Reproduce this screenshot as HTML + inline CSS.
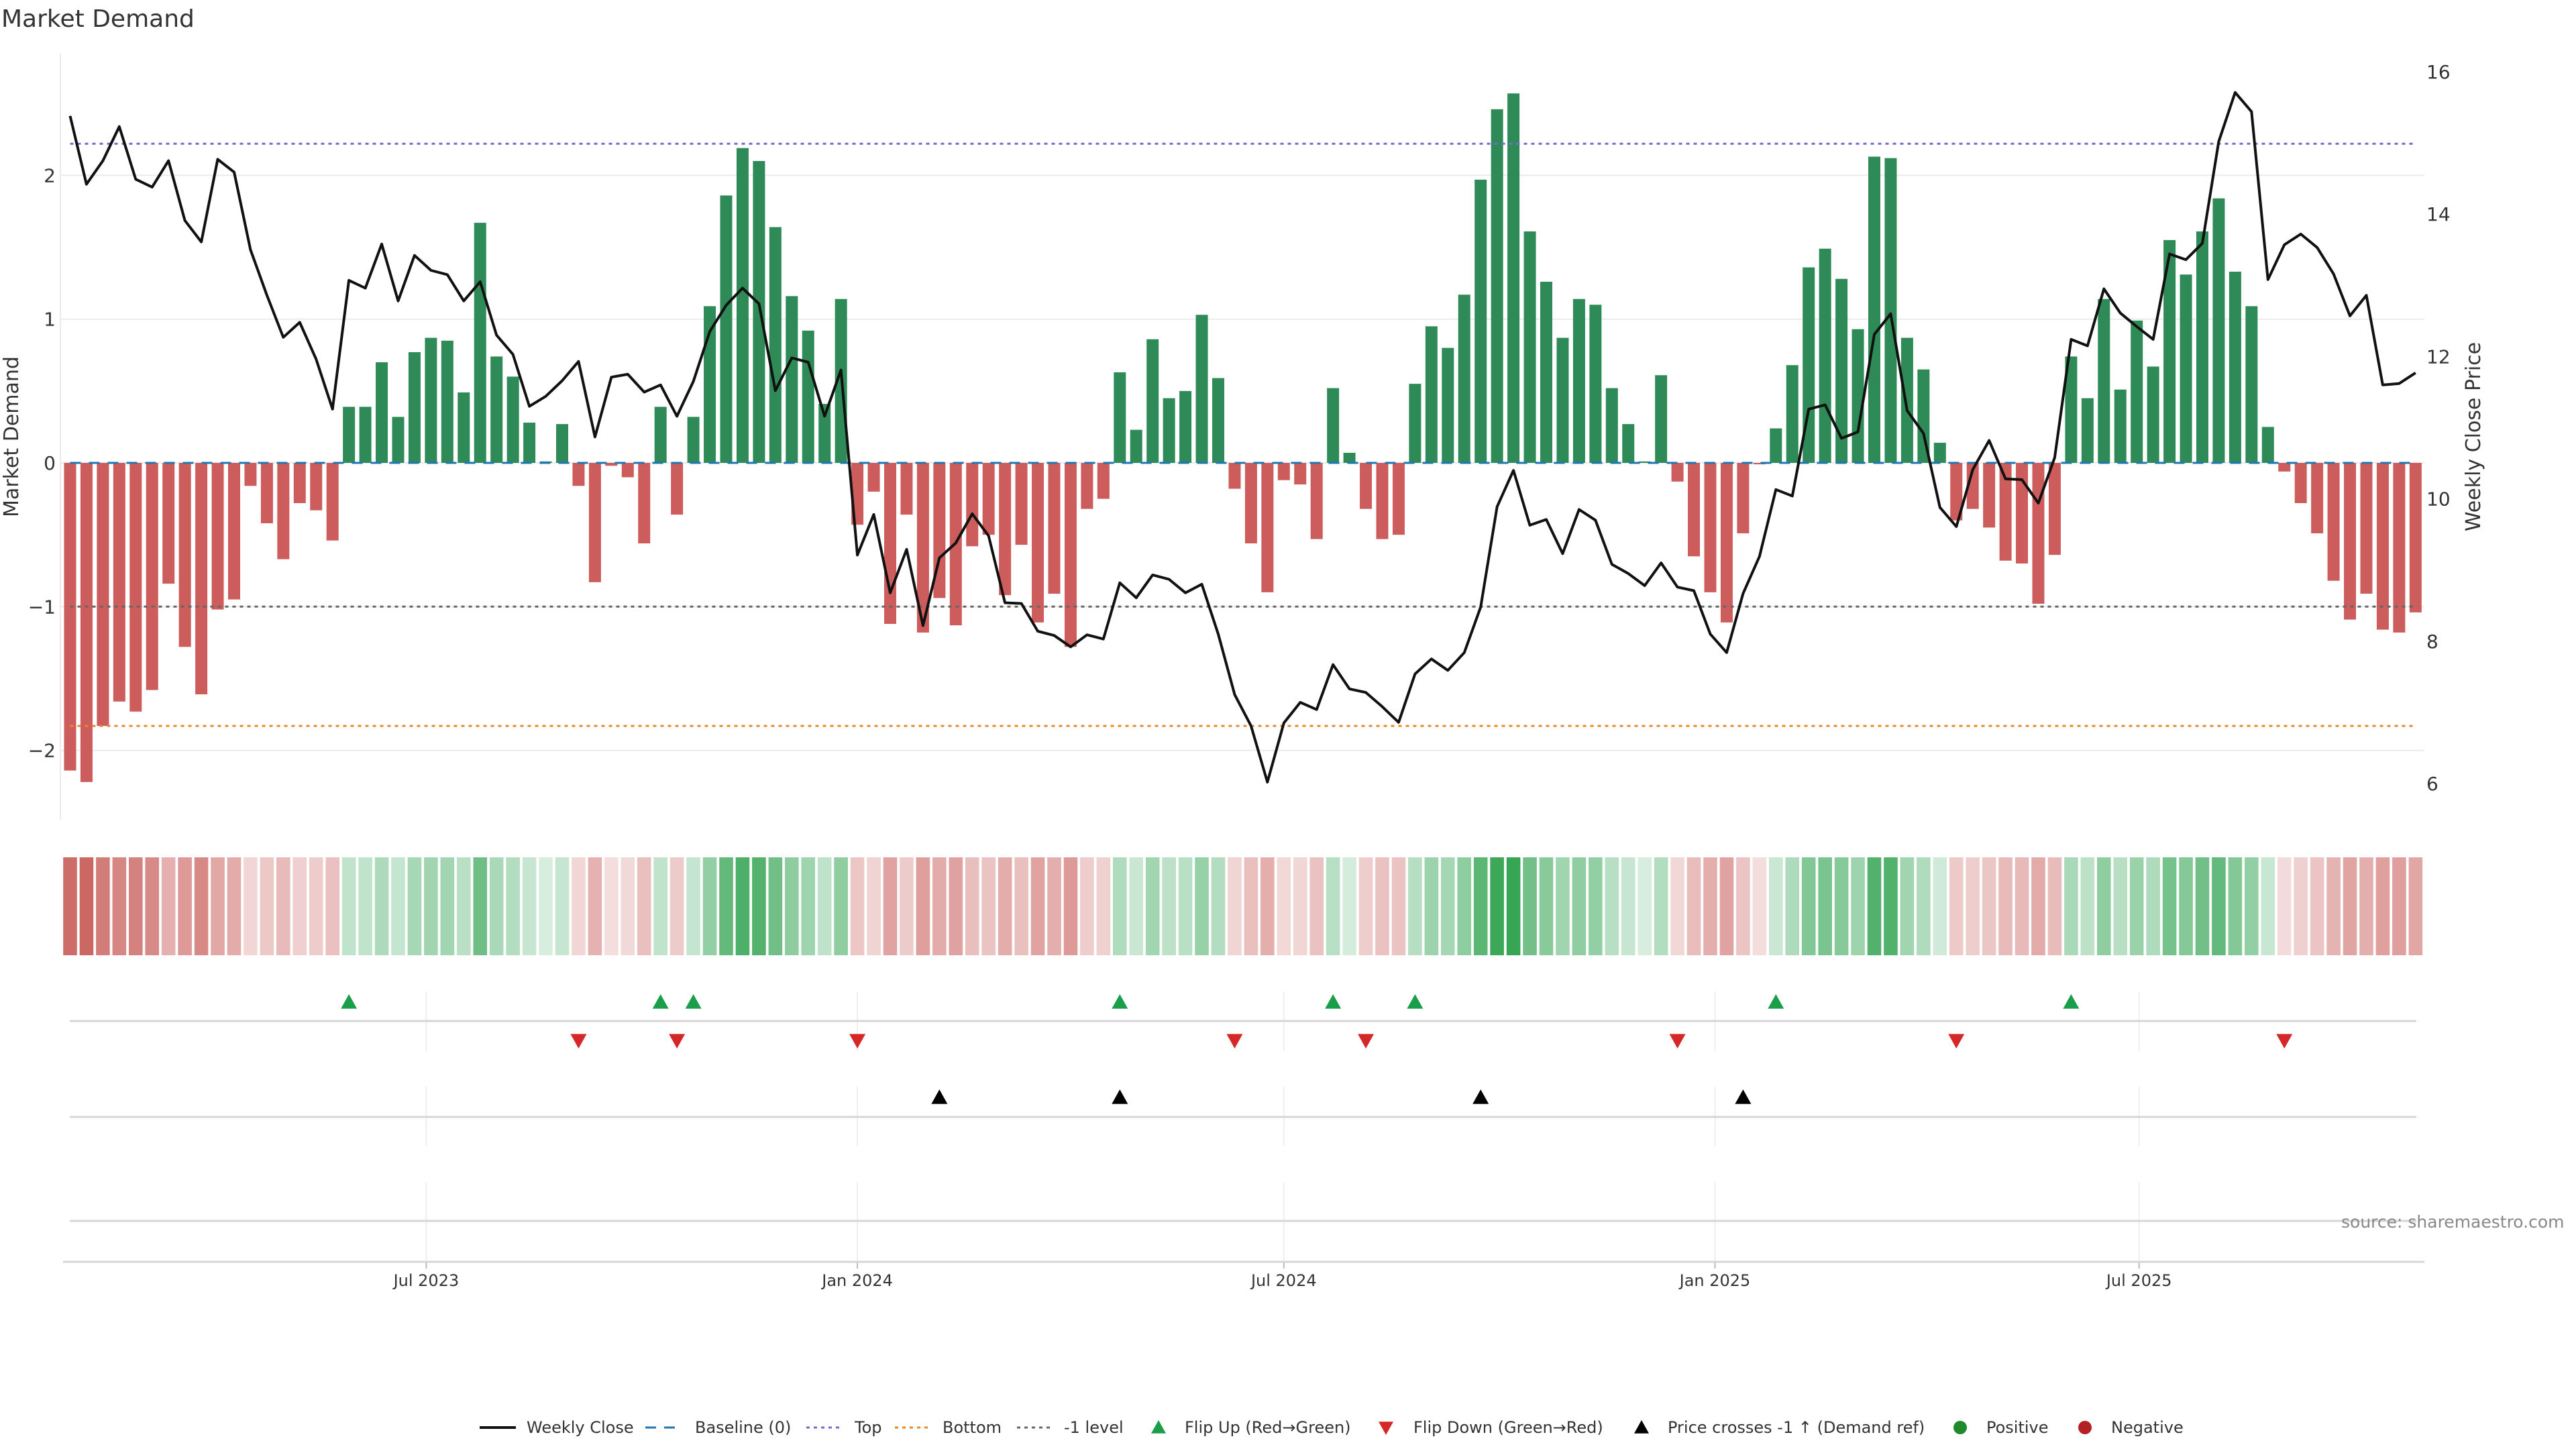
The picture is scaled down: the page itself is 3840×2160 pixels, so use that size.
<!DOCTYPE html>
<html><head><meta charset="utf-8"><title>Market Demand</title>
<style>
html,body{margin:0;padding:0;background:#fff;}
svg{display:block;font-family:"DejaVu Sans","Liberation Sans",sans-serif;}
</style></head>
<body>
<svg id="chart" width="3840" height="2160" viewBox="0 0 3840 2160" xmlns="http://www.w3.org/2000/svg">
<rect width="3840" height="2160" fill="#fff"/>
<text x="2" y="40" font-size="36" fill="#333">Market Demand</text>
<g id="grid"></g><g id="bars"></g><g id="lines"></g><g id="heat"></g><g id="markers"></g><g id="axes"></g><g id="legend"></g>
<text x="3490" y="1830" font-size="25" fill="#888">source: sharemaestro.com</text>
</svg>
<script>
const demand = [-2.14,-2.22,-1.83,-1.66,-1.73,-1.58,-0.84,-1.28,-1.61,-1.02,-0.95,-0.16,-0.42,-0.67,-0.28,-0.33,-0.54,0.39,0.39,0.70,0.32,0.77,0.87,0.85,0.49,1.67,0.74,0.60,0.28,0.01,0.27,-0.16,-0.83,-0.02,-0.10,-0.56,0.39,-0.36,0.32,1.09,1.86,2.19,2.10,1.64,1.16,0.92,0.41,1.14,-0.43,-0.20,-1.12,-0.36,-1.18,-0.94,-1.13,-0.58,-0.50,-0.92,-0.57,-1.11,-0.91,-1.28,-0.32,-0.25,0.63,0.23,0.86,0.45,0.50,1.03,0.59,-0.18,-0.56,-0.90,-0.12,-0.15,-0.53,0.52,0.07,-0.32,-0.53,-0.50,0.55,0.95,0.80,1.17,1.97,2.46,2.57,1.61,1.26,0.87,1.14,1.10,0.52,0.27,0.01,0.61,-0.13,-0.65,-0.90,-1.11,-0.49,-0.01,0.24,0.68,1.36,1.49,1.28,0.93,2.13,2.12,0.87,0.65,0.14,-0.40,-0.32,-0.45,-0.68,-0.70,-0.98,-0.64,0.74,0.45,1.14,0.51,0.99,0.67,1.55,1.31,1.61,1.84,1.33,1.09,0.25,-0.06,-0.28,-0.49,-0.82,-1.09,-0.91,-1.16,-1.18,-1.04];
const price = [15.38,14.42,14.75,15.23,14.49,14.38,14.75,13.91,13.61,14.77,14.59,13.50,12.86,12.27,12.48,11.96,11.26,13.07,12.96,13.58,12.78,13.42,13.21,13.15,12.78,13.05,12.30,12.03,11.30,11.44,11.66,11.93,10.87,11.71,11.75,11.50,11.60,11.16,11.65,12.35,12.72,12.96,12.74,11.52,11.98,11.92,11.16,11.81,9.21,9.78,8.68,9.29,8.22,9.17,9.38,9.79,9.48,8.54,8.53,8.14,8.08,7.92,8.09,8.03,8.82,8.61,8.93,8.87,8.68,8.80,8.10,7.25,6.81,6.02,6.85,7.14,7.04,7.67,7.33,7.28,7.08,6.86,7.54,7.75,7.59,7.84,8.48,9.89,10.40,9.63,9.71,9.23,9.85,9.70,9.08,8.95,8.78,9.10,8.76,8.71,8.10,7.84,8.67,9.19,10.13,10.04,11.26,11.32,10.85,10.94,12.31,12.60,11.24,10.92,9.88,9.61,10.41,10.82,10.28,10.27,9.94,10.58,12.24,12.15,12.95,12.61,12.42,12.24,13.44,13.36,13.59,15.02,15.71,15.44,13.08,13.57,13.72,13.53,13.16,12.57,12.86,11.60,11.62,11.77];
const priceCrossIdx = [53,64,86,102];
const topLevel = 2.22;
const bottomLevel = -1.83;
const minusLevel = -1;
const demandTicks = [-2,-1,0,1,2];
const demandTickLabels = ["\u22122","\u22121","0","1","2"];
const priceTicks = [6,8,10,12,14,16];
const dateTicks = ["2023-07-01","2024-01-01","2024-07-01","2025-01-01","2025-07-01"];
const dateTickLabels = ["Jul 2023","Jan 2024","Jul 2024","Jan 2025","Jul 2025"];
const startDate = "2023-01-30";

const NS="http://www.w3.org/2000/svg";
function mk(parent,tag,attrs){const e=document.createElementNS(NS,tag);for(const k in attrs)e.setAttribute(k,attrs[k]);parent.appendChild(e);return e;}
const xB=i=>104.5+24.45*i;
const yD=v=>690-v*214.3;
const yP=p=>107+(16-p)*106.1;
const xDate=s=>xB((Date.parse(s)-Date.parse(startDate))/(7*86400000));
const X0=90,X1=3614,XL=xB(0),XR=xB(demand.length-1);
const grid=document.getElementById('grid'),bars=document.getElementById('bars'),lines=document.getElementById('lines'),heat=document.getElementById('heat'),markers=document.getElementById('markers'),axes=document.getElementById('axes'),legend=document.getElementById('legend');

demandTicks.forEach((t,k)=>{
  const g=mk(grid,'line',{x1:X0,x2:X1,y1:yD(t),y2:yD(t),stroke:'#ebebeb','stroke-width':2});
  
  
  const tx=mk(axes,'text',{x:83,y:yD(t)+10,'font-size':28,fill:'#333','text-anchor':'end'});
  tx.textContent=demandTickLabels[k];
  
  
});
priceTicks.forEach(p=>{
  const tx=mk(axes,'text',{x:3617,y:yP(p)+10,'font-size':28,fill:'#333'});
  tx.textContent=String(p);
  
  
});
const yl=mk(axes,'line',{x1:X0,x2:X0,y1:80,y2:1222,stroke:'#ebebeb','stroke-width':2});


const yt=mk(axes,'text',{x:0,y:0,'font-size':30,fill:'#333','text-anchor':'middle',transform:'translate(27,651) rotate(-90)'});
yt.textContent='Market Demand';


const yt2=mk(axes,'text',{x:0,y:0,'font-size':30,fill:'#333','text-anchor':'middle',transform:'translate(3697,651) rotate(-90)'});
yt2.textContent='Weekly Close Price';



demand.forEach((v,i)=>{
  const y=Math.min(yD(v),yD(0)),h=Math.max(Math.abs(yD(v)-yD(0)),0.5);
  const r=mk(bars,'rect',{x:xB(i)-9,y:y,width:18,height:h,fill:v>=0?'#2e8b57':'#cd5c5c'});
  
  
});
function hline(v,color,dash,name){
  const l=mk(lines,'line',{x1:XL,x2:XR,y1:yD(v),y2:yD(v),stroke:color,'stroke-width':3,'stroke-dasharray':dash});
  
  
}
hline(0,'#1f77b4','16 12','baseline-line');
hline(topLevel,'#7b68d0','5 6','top-line');
hline(bottomLevel,'#e8892b','5 6','bottom-line');
hline(minusLevel,'#666','5 6','minus-one-line');
const pts=price.map((p,i)=>xB(i).toFixed(1)+','+yP(p).toFixed(1)).join(' ');
const pl=mk(lines,'polyline',{points:pts,fill:'none',stroke:'#111','stroke-width':4,'stroke-linejoin':'round'});



function lerp(a,b,t){return a.map((c,k)=>Math.round(c+(b[k]-c)*t));}
demand.forEach((v,i)=>{
  let c;
  if(v>=0){const t=Math.min(v/2.6,1);c=lerp([216,238,224],[52,164,82],t);}
  else{const t=Math.min(-v/2.3,1);c=lerp([244,222,222],[202,100,96],t);}
  const r=mk(heat,'rect',{x:xB(i)-10.3,y:1278,width:20.6,height:146,fill:'rgb('+c.join(',')+')'});
  
  
});

[[1522],[1665],[1820]].forEach(a=>{
  const l=mk(axes,'line',{x1:104,x2:3602,y1:a[0],y2:a[0],stroke:'#d6d6d6','stroke-width':3});
  
  
});
dateTicks.forEach((d,k)=>{
  const x=xDate(d);
  [[1478,1567],[1620,1708],[1763,1880]].forEach(s=>{
    const l=mk(grid,'line',{x1:x,x2:x,y1:s[0],y2:s[1],stroke:'#eeeeee','stroke-width':2});
    
    
  });
  const tk=mk(axes,'line',{x1:x,x2:x,y1:1881,y2:1891,stroke:'#bbb','stroke-width':2});
  
  
  const tx=mk(axes,'text',{x:x,y:1917,'font-size':24,fill:'#333','text-anchor':'middle'});
  tx.textContent=dateTickLabels[k];
  
  
});
const xl=mk(axes,'line',{x1:94,x2:3614,y1:1881,y2:1881,stroke:'#d6d6d6','stroke-width':3});



function tri(x,y,up,color,name){
  const s=12;
  const p=up?`${x},${y-s} ${x-s},${y+s*0.8} ${x+s},${y+s*0.8}`:`${x},${y+s} ${x-s},${y-s*0.8} ${x+s},${y-s*0.8}`;
  const t=mk(markers,'polygon',{points:p,fill:color});
  
  
}
for(let i=1;i<demand.length;i++){
  if(demand[i-1]<0&&demand[i]>=0)tri(xB(i),1494,true,'#1a9e4a','flip-up-marker');
  if(demand[i-1]>=0&&demand[i]<0)tri(xB(i),1551,false,'#d62728','flip-down-marker');
}
priceCrossIdx.forEach(i=>tri(xB(i),1636,true,'#000','price-cross-marker'));

const ly=2128;
function ltext(x,s,name){const t=mk(legend,'text',{x:x,y:ly+8,'font-size':24,fill:'#333'});t.textContent=s;}
function lline(x,color,dash,w,name){const l=mk(legend,'line',{x1:x,x2:x+54,y1:ly,y2:ly,stroke:color,'stroke-width':w,'stroke-dasharray':dash});}
lline(715,'#111','none',4,'legend-weekly-close-swatch');ltext(785,'Weekly Close','legend-weekly-close');
lline(962,'#1f77b4','16 12',3,'legend-baseline-swatch');ltext(1036,'Baseline (0)','legend-baseline');
lline(1202,'#7b68d0','5 6',3,'legend-top-swatch');ltext(1274,'Top','legend-top');
lline(1334,'#e8892b','5 6',3,'legend-bottom-swatch');ltext(1405,'Bottom','legend-bottom');
lline(1516,'#666','5 6',3,'legend-minus-one-swatch');ltext(1586,'-1 level','legend-minus-one');
(function(){const s=11,x=1727,y=ly;const t=mk(legend,'polygon',{points:`${x},${y-s} ${x-s},${y+s*0.8} ${x+s},${y+s*0.8}`,fill:'#1a9e4a'});})();
ltext(1766,'Flip Up (Red\u2192Green)','legend-flip-up');
(function(){const s=11,x=2066,y=ly;const t=mk(legend,'polygon',{points:`${x},${y+s} ${x-s},${y-s*0.8} ${x+s},${y-s*0.8}`,fill:'#d62728'});})();
ltext(2107,'Flip Down (Green\u2192Red)','legend-flip-down');
(function(){const s=11,x=2447,y=ly;const t=mk(legend,'polygon',{points:`${x},${y-s} ${x-s},${y+s*0.8} ${x+s},${y+s*0.8}`,fill:'#000'});})();
ltext(2486,'Price crosses -1 \u2191 (Demand ref)','legend-price-cross');
(function(){const c=mk(legend,'circle',{cx:2922,cy:ly,r:10,fill:'#1e8a2e'});})();
ltext(2961,'Positive','legend-positive');
(function(){const c=mk(legend,'circle',{cx:3108,cy:ly,r:10,fill:'#b22222'});})();
ltext(3147,'Negative','legend-negative');
</script>
</body></html>
